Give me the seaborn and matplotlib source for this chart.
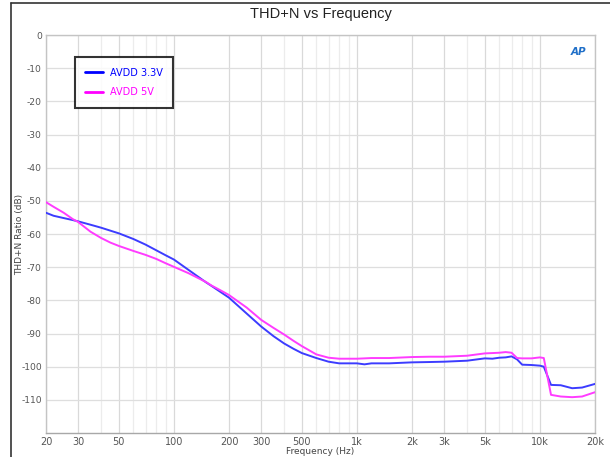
import numpy as np
import pandas as pd
import matplotlib
matplotlib.use("Agg")
import matplotlib.pyplot as plt
from matplotlib.lines import Line2D
import seaborn as sns

freq_hz = [20, 22, 25, 28, 30, 35, 40, 45, 50, 60, 70, 80, 90, 100, 120, 150, 160, 180,
           200, 250, 300, 350, 400, 450, 500, 600, 700, 800, 900, 1000, 1100, 1200, 1500,
           2000, 2500, 3000, 4000, 5000, 5500, 6000, 6500, 7000, 7500, 8000, 9000, 10000,
           10500, 11500, 13000, 15000, 17000, 20000]

avdd_33 = [-53.6, -54.5, -55.2, -55.8, -56.2, -57.2, -58.1, -59.0, -59.8, -61.5, -63.2, -64.9,
           -66.4, -67.7, -70.8, -74.6, -75.6, -77.5, -79.2, -84.0, -87.9, -90.8, -93.0, -94.6,
           -95.9, -97.4, -98.5, -99.0, -99.0, -99.0, -99.3, -99.0, -99.0, -98.7, -98.6, -98.5,
           -98.2, -97.5, -97.6, -97.3, -97.2, -96.9, -97.8, -99.4, -99.5, -99.7, -100.0,
           -105.5, -105.6, -106.5, -106.3, -105.2]

avdd_5 = [-50.4, -51.8, -53.6, -55.5, -56.4, -59.3, -61.2, -62.6, -63.6, -65.1, -66.3, -67.5,
          -68.8, -69.9, -71.8, -74.5, -75.5, -77.0, -78.4, -82.2, -85.9, -88.3, -90.3, -92.2,
          -93.8, -96.3, -97.3, -97.6, -97.6, -97.6, -97.5, -97.4, -97.4, -97.1, -97.0, -97.0,
          -96.7, -96.0, -95.9, -95.8, -95.6, -95.8, -97.4, -97.5, -97.5, -97.2, -97.4,
          -108.5, -109.0, -109.2, -109.0, -107.7]

series_names = ["AVDD 3.3V", "AVDD 5V"]
x_ticks = [20, 30, 50, 100, 200, 300, 500, 1000, 2000, 3000, 5000, 10000, 20000]
x_tick_labels = ["20", "30", "50", "100", "200", "300", "500", "1k", "2k", "3k", "5k", "10k", "20k"]
y_ticks = [0, -10, -20, -30, -40, -50, -60, -70, -80, -90, -100, -110]

df = pd.DataFrame({
    "Frequency": freq_hz * 2,
    "THD+N": avdd_33 + avdd_5,
    "Series": [series_names[0]] * len(freq_hz) + [series_names[1]] * len(freq_hz),
})

sns.set_style("white")
plt.rcParams["font.family"] = ["DejaVu Sans"]

colors = {"AVDD 3.3V": "#3c3cff", "AVDD 5V": "#ff3cff"}
text_colors = {"AVDD 3.3V": "#0000ff", "AVDD 5V": "#ff00ff"}

fig = plt.figure(figsize=(6.10, 4.57), dpi=100)
ax = fig.add_axes([46 / 610, 1 - 433 / 457, 549 / 610, 398 / 457])

# grid
minor_x = [40, 60, 70, 80, 90, 400, 600, 700, 800, 900, 4000, 6000, 7000, 8000, 9000]
for f in minor_x:
    ax.axvline(f, color="#ececec", lw=0.9, zorder=0)
for f in x_ticks:
    ax.axvline(f, color="#d9d9d9", lw=0.9, zorder=0)
for v in y_ticks:
    ax.axhline(v, color="#dedede", lw=0.9, zorder=0)

sns.lineplot(data=df, x="Frequency", y="THD+N", hue="Series", palette=colors,
             linewidth=1.4, ax=ax, legend=False, zorder=3)

ax.set_xscale("log")
ax.set_xlim(20, 20000)
ax.set_ylim(-120, 0)
ax.set_xticks(x_ticks)
ax.set_xticklabels(x_tick_labels)
ax.xaxis.set_minor_locator(matplotlib.ticker.NullLocator())
ax.set_yticks(y_ticks)
ax.set_yticklabels([str(v) for v in y_ticks])
ax.tick_params(axis="x", length=0, labelsize=7, colors="#555555", pad=3)
ax.tick_params(axis="y", length=0, labelsize=6.6, colors="#555555", pad=3)

for s in ax.spines.values():
    s.set_color("#c4c4c4")
    s.set_linewidth(1.0)
ax.spines["bottom"].set_color("#a8a8a8")

ax.set_xlabel("Frequency (Hz)", fontsize=6.5, color="#444444", labelpad=0)
ax.set_ylabel("THD+N Ratio (dB)", fontsize=6.5, color="#444444")
ax.yaxis.set_label_coords(-0.04, 0.5)
ax.set_title("THD+N vs Frequency", fontsize=10.5, color="#222222", pad=12,
             family=["Liberation Sans", "DejaVu Sans"])

handles = [Line2D([0], [0], color=text_colors[n], lw=2) for n in series_names]
leg = ax.legend(handles, series_names, loc="upper left", bbox_to_anchor=(0.052, 0.945),
                frameon=True, fancybox=False, fontsize=7, handlelength=1.8,
                borderpad=1.1, labelspacing=1.0, handletextpad=0.7, borderaxespad=0)
leg.get_frame().set_edgecolor("black")
leg.get_frame().set_linewidth(1.5)
for t, n in zip(leg.get_texts(), series_names):
    t.set_color(text_colors[n])

ax.text(0.985, 0.97, "AP", transform=ax.transAxes, ha="right", va="top",
        fontsize=7.5, fontweight="bold", fontstyle="italic", color="#1f6fc8")

# outer frame (top and left)
fig.add_artist(Line2D([10.5 / 610, 1.0], [1 - 3 / 457, 1 - 3 / 457],
                      transform=fig.transFigure, color="#333333", lw=1.2))
fig.add_artist(Line2D([10.5 / 610, 10.5 / 610], [0, 1 - 3 / 457],
                      transform=fig.transFigure, color="#333333", lw=1.2))

fig.savefig("out.png", dpi=100)
